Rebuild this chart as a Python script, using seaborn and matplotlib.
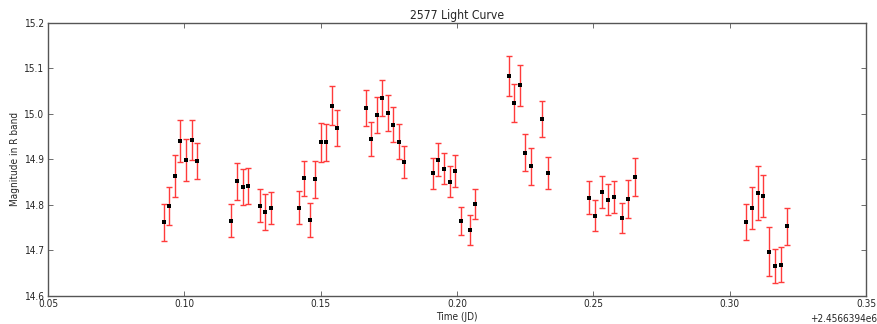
import numpy as np
import pandas as pd
import matplotlib
matplotlib.use("Agg")
import matplotlib.pyplot as plt
import seaborn as sns
from matplotlib.ticker import ScalarFormatter, FormatStrFormatter

JD0 = 2456639.4
time_offset = [0.0924, 0.0945, 0.0964, 0.0985, 0.1006, 0.1027, 0.1048,
               0.1172, 0.1194, 0.1214, 0.1235, 0.1276, 0.1296, 0.1318,
               0.1419, 0.1439, 0.1460, 0.1479, 0.1500, 0.1521, 0.1542, 0.1561,
               0.1665, 0.1685, 0.1705, 0.1725, 0.1746, 0.1767, 0.1787, 0.1807,
               0.1911, 0.1930, 0.1951, 0.1973, 0.1992, 0.2016, 0.2047, 0.2067,
               0.2190, 0.2210, 0.2230, 0.2251, 0.2272, 0.2313, 0.2332,
               0.2483, 0.2505, 0.2531, 0.2555, 0.2577, 0.2604, 0.2628, 0.2653,
               0.3061, 0.3083, 0.3104, 0.3124, 0.3145, 0.3167, 0.3188, 0.3210]
magnitude = [14.762, 14.797, 14.864, 14.940, 14.898, 14.943, 14.896,
             14.765, 14.852, 14.839, 14.841, 14.798, 14.784, 14.793,
             14.794, 14.858, 14.767, 14.856, 14.937, 14.937, 15.018, 14.969,
             15.013, 14.945, 14.997, 15.035, 15.002, 14.976, 14.939, 14.894,
             14.870, 14.899, 14.879, 14.851, 14.874, 14.765, 14.744, 14.801,
             15.083, 15.024, 15.063, 14.915, 14.885, 14.988, 14.870,
             14.816, 14.776, 14.828, 14.811, 14.817, 14.771, 14.813, 14.862,
             14.762, 14.793, 14.826, 14.819, 14.697, 14.666, 14.669, 14.753]
mag_error = [0.041, 0.042, 0.046, 0.046, 0.046, 0.044, 0.040,
             0.036, 0.041, 0.040, 0.040, 0.036, 0.040, 0.036,
             0.037, 0.038, 0.038, 0.041, 0.043, 0.040, 0.042, 0.039,
             0.040, 0.038, 0.040, 0.040, 0.040, 0.038, 0.038, 0.036,
             0.034, 0.036, 0.034, 0.034, 0.035, 0.031, 0.033, 0.033,
             0.044, 0.041, 0.045, 0.040, 0.041, 0.040, 0.036,
             0.036, 0.034, 0.035, 0.034, 0.035, 0.033, 0.042, 0.042,
             0.040, 0.047, 0.059, 0.046, 0.054, 0.037, 0.039, 0.040]
x_ticks = [0.05, 0.10, 0.15, 0.20, 0.25, 0.30, 0.35]
y_ticks = [14.6, 14.7, 14.8, 14.9, 15.0, 15.1, 15.2]

df = pd.DataFrame({"time": np.array(time_offset) + JD0,
                   "mag": magnitude, "err": mag_error})

sns.set_style("white")
plt.rcParams['font.family'] = ['DejaVu Sans']
plt.rcParams['font.stretch'] = 'condensed'
plt.rcParams['xtick.direction'] = 'in'
plt.rcParams['ytick.direction'] = 'in'

fig = plt.figure(figsize=(8.78, 3.24), dpi=100)
ax = fig.add_axes([48/878, 28/324, (866-48)/878, (296-22.7)/324])

ax.errorbar(df["time"], df["mag"], yerr=df["err"], fmt='none',
            ecolor='#ff3b3b', elinewidth=1.0, capsize=2.5, capthick=1.0, zorder=2)
sns.scatterplot(data=df, x="time", y="mag", ax=ax, color='black', s=5.5,
                marker='s', edgecolor='black', linewidth=0, zorder=3)

ax.set_xlim(JD0 + x_ticks[0], JD0 + x_ticks[-1])
ax.set_ylim(y_ticks[0], y_ticks[-1])
ax.xaxis.set_major_formatter(ScalarFormatter(useOffset=JD0))
ax.set_xticks(JD0 + np.array(x_ticks))
ax.set_yticks(y_ticks)
ax.yaxis.set_major_formatter(FormatStrFormatter('%.1f'))

ax.tick_params(axis='both', which='major', labelsize=7.2, length=3.5, width=0.6,
               pad=2.5, color='#555555', top=True, right=True, bottom=True, left=True)
for sp in ax.spines.values():
    sp.set_color('#555555')
    sp.set_linewidth(1.0)

ax.set_title("2577 Light Curve", fontsize=8.7, pad=3)
ax.set_xlabel("Time (JD)", fontsize=7.2, labelpad=2)
ax.set_ylabel("Magnitude in R band", fontsize=7.2, labelpad=3)
ot = ax.xaxis.get_offset_text()
ot.set_fontsize(7.2)
ot.set_x(1.013)

fig.savefig("out.png", dpi=100)
